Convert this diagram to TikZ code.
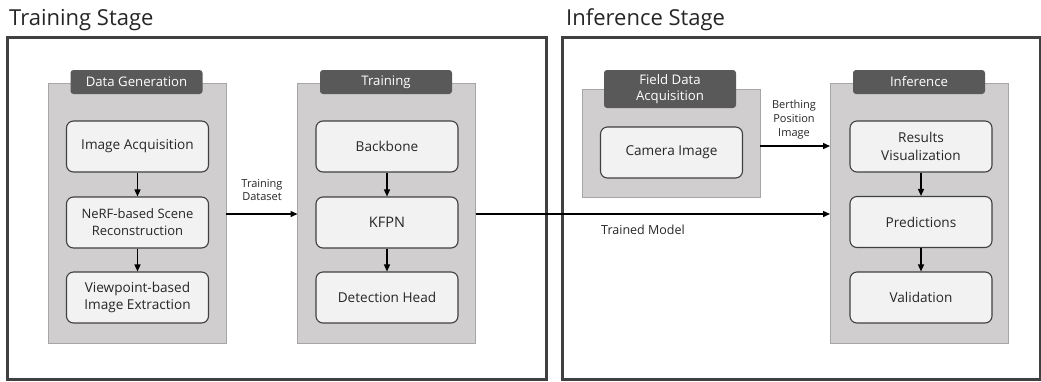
\documentclass[tikz,border=0pt]{standalone}
\usepackage{fontspec}
\setmainfont{Open Sans}
\usetikzlibrary{arrows.meta}
\definecolor{framec}{HTML}{404040}
\definecolor{panelc}{HTML}{D0CECE}
\definecolor{panelb}{HTML}{A6A6A6}
\definecolor{tabc}{HTML}{595959}
\definecolor{boxc}{HTML}{F2F2F2}
\definecolor{textc}{HTML}{262626}
\begin{document}
\begin{tikzpicture}[x=1pt,y=-1pt,
  frame/.style={draw=framec,line width=3pt},
  title/.style={anchor=west,inner sep=0,text=textc,font=\fontsize{22}{26}\selectfont},
  panel/.style={draw=panelb,line width=0.8pt,fill=panelc,inner sep=0,outer sep=0,minimum width=178pt},
  tab/.style={fill=tabc,rounded corners=3pt,text=white,align=center,inner sep=0,
    minimum width=132pt,font=\fontsize{13.2}{16}\selectfont},
  stepbox/.style={draw=framec,line width=1.1pt,fill=boxc,rounded corners=7pt,align=center,
    inner sep=0,minimum width=142pt,minimum height=51pt,text=textc,font=\fontsize{13.6}{17.5}\selectfont},
  arr/.style={-{Triangle[length=7pt,width=6pt]},line width=1.4pt},
  lbl/.style={align=center,inner sep=0,text=textc,font=\fontsize{11}{13.5}\selectfont}]
\useasboundingbox (0,0) rectangle (1041,381);

% stage frames and titles
\draw[frame] (7,37) rectangle (546,379);
\draw[frame] (562,37) rectangle (1040,379);
\node[title] (ttrain) at (9,20) {Training Stage};
\node[title] (tinfer) at (566,20) {Inference Stage};

% grey panels
\node[panel,minimum height=260pt] (dg) at (137,213) {};
\node[panel,minimum height=260pt] (tr) at (386.5,213) {};
\node[panel,minimum height=260pt] (inf) at (919,213) {};
\node[panel,minimum height=108pt] (field) at (671,143) {};

% panel tabs
\node[tab,minimum height=24pt] (dgtab) at (136.5,82) {Data Generation};
\node[tab,minimum height=24pt] (trtab) at (386,82) {Training};
\node[tab,minimum height=24pt] (inftab) at (919,82) {Inference};
\node[tab,minimum height=38pt] (fieldtab) at (670,89) {Field Data\\Acquisition};

% data generation steps
\node[stepbox] (acq) at (137.5,146.5) {Image Acquisition};
\node[stepbox,font=\fontsize{13}{17}\selectfont] (nerf) at (137.5,222.5) {NeRF-based Scene\\Reconstruction};
\node[stepbox] (view) at (137.5,297.5) {Viewpoint-based\\Image Extraction};

% training steps
\node[stepbox] (bb) at (387,146.5) {Backbone};
\node[stepbox,font=\fontsize{14.5}{17}\selectfont] (kfpn) at (387,222.5) {KFPN};
\node[stepbox] (head) at (387,297.5) {Detection Head};

% field data
\node[stepbox] (cam) at (671.5,152.5) {Camera Image};

% inference steps
\node[stepbox] (vis) at (921,146.5) {Results\\Visualization};
\node[stepbox] (pred) at (921,222) {Predictions};
\node[stepbox] (val) at (921,297.5) {Validation};

% arrows inside panels
\draw[arr] (acq) -- (nerf);
\draw[arr] (nerf) -- (view);
\draw[arr] (bb) -- (kfpn);
\draw[arr] (kfpn) -- (head);
\draw[arr] (vis) -- (pred);
\draw[arr] (pred) -- (val);

% arrows between panels
\draw[arr] ([yshift=-1pt]dg.east) -- ([yshift=-1pt]tr.west);
\draw[arr] ([yshift=-1pt]tr.east) -- ([yshift=-1pt]inf.west);
\draw[arr] ([yshift=-3pt]field.east) -- ([yshift=-3pt]field.east -| inf.west);

% connector labels
\node[lbl] (ldata) at (262,190) {Training\\Dataset};
\node[lbl,font=\fontsize{11}{14}\selectfont] (lberth) at (794,120) {Berthing\\Position\\Image};
\node[lbl,font=\fontsize{12.5}{14}\selectfont] (lmodel) at (643,230) {Trained Model};
\end{tikzpicture}
\end{document}
